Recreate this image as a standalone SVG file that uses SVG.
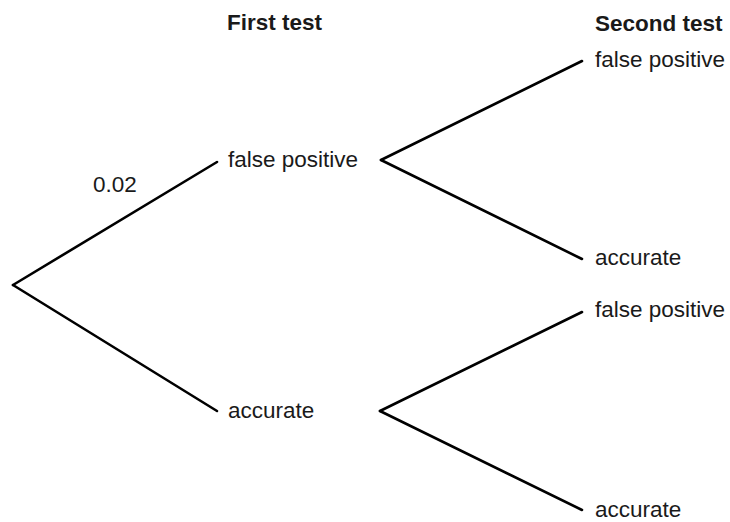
<svg xmlns="http://www.w3.org/2000/svg" width="730" height="522" viewBox="0 0 730 522">
<style>
.t{font-family:"Liberation Sans",Arial,sans-serif;font-size:22.5px;fill:#1a1a1a}
.h{font-weight:bold}
.c line{stroke:#000;stroke-width:2.6;stroke-linecap:round}
</style>
<rect width="730" height="522" fill="#fff"/>
<g class="c" id="connectors">
<line x1="13" y1="285" x2="217" y2="162"/>
<line x1="13" y1="285" x2="217" y2="411"/>
<line x1="381" y1="160" x2="582" y2="61"/>
<line x1="381" y1="160" x2="582" y2="259"/>
<line x1="380" y1="411" x2="582" y2="312"/>
<line x1="380" y1="411" x2="582" y2="510"/>
</g>
<g id="header1"><text class="t h" x="227" y="30">First test</text></g>
<g id="header2"><text class="t h" x="595" y="31">Second test</text></g>
<g id="label-002"><text class="t" x="93" y="192">0.02</text></g>
<g id="n-fp1"><text class="t" x="228" y="167">false positive</text></g>
<g id="n-acc1"><text class="t" x="228" y="418">accurate</text></g>
<g id="n-fp-fp"><text class="t" x="595" y="67">false positive</text></g>
<g id="n-fp-acc"><text class="t" x="595" y="265">accurate</text></g>
<g id="n-acc-fp"><text class="t" x="595" y="317">false positive</text></g>
<g id="n-acc-acc"><text class="t" x="595" y="517">accurate</text></g>
</svg>
